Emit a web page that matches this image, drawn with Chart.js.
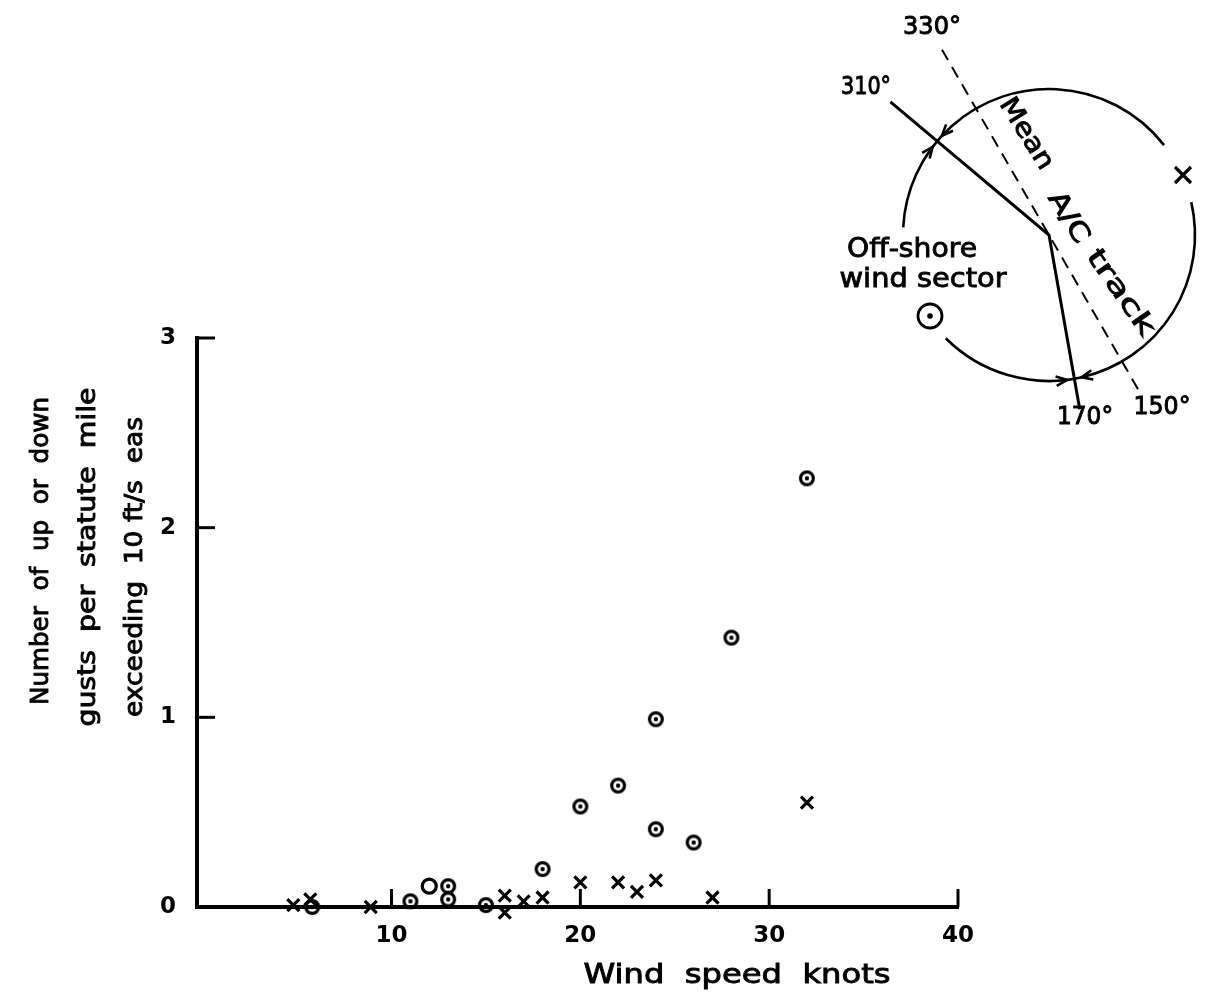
<!DOCTYPE html>
<html>
<head>
<meta charset="utf-8">
<script src="https://cdn.jsdelivr.net/npm/chart.js@4.4.1/dist/chart.umd.min.js"></script>
<style>
  html, body { margin: 0; padding: 0; background: #fff; }
  #grafico { display: block; }
</style>
</head>
<body>
<canvas id="grafico" width="1209" height="1008"></canvas>
<script>
// Datos: velocidad del viento (nudos) vs ráfagas por milla
const circleX = [5.8, 11, 13, 13, 15, 18, 20, 22, 24, 24, 26, 28, 32];
const circleY = [0, 0.03, 0.04, 0.11, 0.01, 0.2, 0.53, 0.64, 0.99, 0.41, 0.34, 1.42, 2.26];
const openX = [12];
const openY = [0.11];
const crossX = [4.8, 5.7, 8.9, 16, 16, 17, 18, 20, 22, 23, 24, 27, 32];
const crossY = [0.01, 0.04, 0, 0.06, -0.03, 0.03, 0.05, 0.13, 0.13, 0.08, 0.14, 0.05, 0.55];
const xTicks = [10, 20, 30, 40];
const yTicks = [0, 1, 2, 3];

const FONT = '"DejaVu Sans", sans-serif';

// marcador: círculo con punto central
function circuloPunto(r) {
  const c = document.createElement('canvas');
  c.width = c.height = 2 * r + 4;
  const g = c.getContext('2d');
  const m = c.width / 2;
  g.strokeStyle = '#000';
  g.lineWidth = 3.2;
  g.beginPath();
  g.arc(m, m, r - 1.6, 0, Math.PI * 2);
  g.stroke();
  g.fillStyle = '#000';
  g.beginPath();
  g.arc(m, m, 2.2, 0, Math.PI * 2);
  g.fill();
  return c;
}

const pares = (xs, ys) => xs.map((x, i) => ({ x: x, y: ys[i] }));

// texto ajustado a un ancho dado (escala horizontal), con trazo para engrosar
function textoAjustado(ctx, txt, cx, cy, ancho, size, ang) {
  ctx.save();
  ctx.font = size + 'px ' + FONT;
  ctx.fillStyle = '#000';
  ctx.strokeStyle = '#000';
  ctx.lineWidth = 0.9;
  ctx.textAlign = 'center';
  ctx.textBaseline = 'middle';
  const w = ctx.measureText(txt).width;
  ctx.translate(cx, cy);
  ctx.rotate(ang || 0);
  ctx.scale(ancho / w, 1);
  ctx.fillText(txt, 0, 0);
  ctx.strokeText(txt, 0, 0);
  ctx.restore();
}

function flecha(ctx, x, y, ang) {
  const L = 12;
  ctx.beginPath();
  ctx.moveTo(x - L * Math.cos(ang - 0.4), y - L * Math.sin(ang - 0.4));
  ctx.lineTo(x, y);
  ctx.lineTo(x - L * Math.cos(ang + 0.4), y - L * Math.sin(ang + 0.4));
  ctx.stroke();
}

const extras = {
  id: 'extras',
  afterDraw(chart) {
    const ctx = chart.ctx;
    const xs = chart.scales.x, ys = chart.scales.y;
    const x0 = xs.left, y0 = ys.bottom;
    ctx.save();
    ctx.strokeStyle = '#000';
    ctx.fillStyle = '#000';
    ctx.lineWidth = 3;
    // marcas hacia dentro
    yTicks.slice(1).forEach(v => {
      const py = ys.getPixelForValue(v);
      ctx.beginPath(); ctx.moveTo(x0, py); ctx.lineTo(x0 + 18, py); ctx.stroke();
    });
    xTicks.forEach(v => {
      const px = xs.getPixelForValue(v);
      ctx.beginPath(); ctx.moveTo(px, y0); ctx.lineTo(px, y0 - 18); ctx.stroke();
    });

    // títulos de ejes
    textoAjustado(ctx, 'Number  of  up  or  down', 41, 551, 308, 25, -Math.PI / 2);
    textoAjustado(ctx, 'gusts  per  statute  mile', 88, 557, 339, 25, -Math.PI / 2);
    textoAjustado(ctx, 'exceeding  10 ft/s  eas', 135, 567, 300, 25, -Math.PI / 2);
    textoAjustado(ctx, 'Wind  speed  knots', 737, 976, 307, 27, 0);

    // diagrama de sectores
    const cx = 1049, cy = 235, r = 146;
    const rad = d => d * Math.PI / 180;
    const dir = b => rad(b - 90);
    ctx.lineWidth = 2.6;
    ctx.beginPath(); ctx.arc(cx, cy, r, rad(183), rad(322)); ctx.stroke();
    ctx.beginPath(); ctx.arc(cx, cy, r, rad(-13), rad(135)); ctx.stroke();
    // límites 310° y 170°
    ctx.lineWidth = 3;
    ctx.beginPath();
    ctx.moveTo(cx + 207 * Math.cos(dir(310)), cy + 207 * Math.sin(dir(310)));
    ctx.lineTo(cx, cy);
    ctx.lineTo(cx + 177 * Math.cos(dir(170)), cy + 177 * Math.sin(dir(170)));
    ctx.stroke();
    // trayectoria media (discontinua)
    ctx.lineWidth = 2;
    ctx.setLineDash([12, 8]);
    ctx.beginPath();
    ctx.moveTo(cx + 214 * Math.cos(dir(330)), cy + 214 * Math.sin(dir(330)));
    ctx.lineTo(cx + 182 * Math.cos(dir(150)), cy + 182 * Math.sin(dir(150)));
    ctx.stroke();
    ctx.setLineDash([]);
    // flechas convergentes
    ctx.lineWidth = 2.6;
    [[310, -1], [310, 1], [170, -1], [170, 1]].forEach(([b, s]) => {
      const a = dir(b) + s * 0.05;
      const px = cx + r * Math.cos(a), py = cy + r * Math.sin(a);
      const tang = a + (s > 0 ? -Math.PI / 2 : Math.PI / 2);
      flecha(ctx, px, py, tang);
    });
    // símbolos
    ctx.lineWidth = 3.2;
    ctx.beginPath();
    ctx.moveTo(1175, 167); ctx.lineTo(1191, 183);
    ctx.moveTo(1191, 167); ctx.lineTo(1175, 183);
    ctx.stroke();
    ctx.lineWidth = 2.8;
    ctx.beginPath(); ctx.arc(930, 316, 12, 0, Math.PI * 2); ctx.stroke();
    ctx.beginPath(); ctx.arc(930, 316, 2.8, 0, Math.PI * 2); ctx.fill();

    textoAjustado(ctx, '330°', 932, 28, 58, 24, 0);
    textoAjustado(ctx, '310°', 866, 88, 50, 24, 0);
    textoAjustado(ctx, '170°', 1085, 418, 56, 24, 0);
    textoAjustado(ctx, '150°', 1162, 408, 57, 24, 0);
    textoAjustado(ctx, 'Off-shore', 912, 250, 130, 27, 0);
    textoAjustado(ctx, 'wind sector', 923, 280, 167, 27, 0);
    textoAjustado(ctx, 'Mean', 1026, 134, 80, 26, rad(58));
    textoAjustado(ctx, 'A/C', 1068, 218, 56, 26, rad(58));
    textoAjustado(ctx, 'track', 1120, 293, 100, 26, rad(55));
    ctx.restore();
  }
};

const ctx = document.getElementById('grafico').getContext('2d');
new Chart(ctx, {
  type: 'scatter',
  data: {
    datasets: [
      {
        label: 'Off-shore',
        data: pares(circleX, circleY),
        pointStyle: circuloPunto(8),
        pointRadius: 8,
        clip: false
      },
      {
        label: 'Off-shore (abierto)',
        data: pares(openX, openY),
        pointStyle: 'circle',
        pointRadius: 7,
        borderWidth: 3.2,
        borderColor: '#000',
        backgroundColor: 'rgba(0,0,0,0)',
        clip: false
      },
      {
        label: 'On-shore',
        data: pares(crossX, crossY),
        pointStyle: 'crossRot',
        pointRadius: 8.5,
        borderWidth: 3.2,
        borderColor: '#000',
        clip: false
      }
    ]
  },
  options: {
    responsive: false,
    animation: false,
    layout: { padding: { top: 338, right: 251, left: 0, bottom: 0 } },
    plugins: {
      legend: { display: false },
      tooltip: { enabled: false }
    },
    scales: {
      x: {
        type: 'linear',
        min: -0.3,
        max: 40,
        afterBuildTicks: s => { s.ticks = xTicks.map(v => ({ value: v })); },
        afterFit: s => { s.height = 101; },
        grid: { display: false, drawTicks: false },
        border: { color: '#000', width: 4 },
        ticks: { color: '#000', padding: 15, font: { family: FONT, size: 23, weight: 'bold' } }
      },
      y: {
        min: 0,
        max: 3,
        afterBuildTicks: s => { s.ticks = yTicks.map(v => ({ value: v })); },
        afterFit: s => { s.width = 197; },
        grid: { display: false, drawTicks: false },
        border: { color: '#000', width: 4 },
        ticks: { color: '#000', padding: 21, font: { family: FONT, size: 23, weight: 'bold' } }
      }
    }
  },
  plugins: [extras]
});
</script>
</body>
</html>
